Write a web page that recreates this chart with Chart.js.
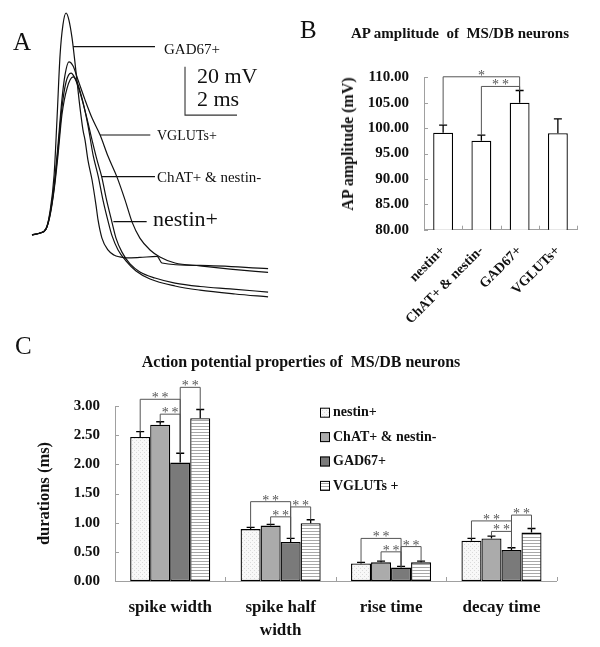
<!DOCTYPE html>
<html><head><meta charset="utf-8">
<script src="https://cdn.jsdelivr.net/npm/chart.js@4.4.1/dist/chart.umd.min.js"></script>
<style>
html,body{margin:0;padding:0;background:#fff;}
#wrap{position:relative;width:600px;height:647px;overflow:hidden;background:#fff;}
canvas{position:absolute;left:0;top:0;}
.t{position:absolute;font-family:"Liberation Serif","Times New Roman",serif;color:#111;white-space:pre;line-height:1;transform:translateY(-50%);}
.c{transform:translate(-50%,-50%);}
.b{font-weight:bold;}
</style></head><body>
<div id="wrap">
<canvas id="cA" width="600" height="647"></canvas>
<canvas id="cB" width="600" height="647"></canvas>
<canvas id="cC" width="600" height="647"></canvas>
<div class="t" style="left:13px;top:41px;font-size:25px">A</div>
<div class="t" style="left:164px;top:49px;font-size:15px">GAD67+</div>
<div class="t" style="left:197px;top:76px;font-size:22px">20 mV</div>
<div class="t" style="left:197px;top:99px;font-size:22px">2 ms</div>
<div class="t" style="left:157px;top:136px;font-size:14px">VGLUTs+</div>
<div class="t" style="left:157px;top:177px;font-size:15px">ChAT+ &amp; nestin-</div>
<div class="t" style="left:153px;top:219px;font-size:22px">nestin+</div>
<div class="t" style="left:300px;top:29px;font-size:25px">B</div>
<div class="t c b" style="left:460px;top:33px;font-size:15px">AP amplitude  of  MS/DB neurons</div>
<div class="t b" style="left:348px;top:143.5px;font-size:16px;transform:translate(-50%,-50%) rotate(-90deg)">AP amplitude (mV)</div>
<div class="t" style="left:15px;top:345px;font-size:25px">C</div>
<div class="t c b" style="left:301px;top:362px;font-size:16px">Action potential properties of  MS/DB neurons</div>
</div>
<script>
// ---------- Panel A: AP traces, [time (ms), membrane potential (mV)] ----------
const gadTrace = [[0,-60.8],[0.31,-60.0],[0.54,-58.3],[0.69,-51.3],[0.85,-36.0],[0.96,-13.3],[1.08,13.6],[1.19,26.0],[1.31,30.9],[1.42,28.0],[1.54,20.6],[1.65,10.7],[1.81,-5.0],[1.96,-17.4],[2.04,-21.6],[2.15,-29.8],[2.31,-38.1],[2.46,-48.4],[2.54,-54.6],[2.69,-62.1],[2.92,-67.0],[3.15,-69.1],[3.38,-69.9],[3.65,-70.3],[4.15,-70.1],[4.81,-69.7],[5.0,-72.4],[6.46,-73.4],[9.08,-74.7]];
const vglutTrace = [[0,-60.8],[0.31,-60.0],[0.54,-58.3],[0.69,-52.1],[0.85,-40.2],[1.0,-23.6],[1.15,-5.0],[1.27,5.3],[1.42,10.7],[1.58,9.0],[1.77,3.2],[2.04,-5.0],[2.31,-12.5],[2.62,-19.5],[2.92,-28.2],[3.27,-36.9],[3.58,-46.4],[3.85,-55.5],[4.15,-62.1],[4.54,-67.0],[4.92,-69.9],[5.5,-72.4],[6.46,-73.6],[7.62,-74.9],[9.08,-76.3]];
const chatTrace = [[0,-60.8],[0.31,-60.0],[0.54,-58.3],[0.69,-52.6],[0.85,-41.4],[1.0,-25.7],[1.15,-8.3],[1.31,2.4],[1.5,6.1],[1.65,4.0],[1.85,-2.1],[2.08,-11.2],[2.31,-21.6],[2.5,-29.8],[2.68,-36.7],[2.85,-45.5],[3.07,-55.3],[3.23,-62.1],[3.46,-67.9],[3.77,-72.8],[4.15,-76.1],[4.73,-78.6],[5.5,-80.7],[6.46,-82.1],[7.62,-83.1],[9.08,-84.4]];
const nestinTrace = [[0,-60.8],[0.31,-60.0],[0.54,-58.3],[0.69,-53.0],[0.85,-42.2],[1.0,-27.8],[1.15,-11.2],[1.35,-0.1],[1.58,4.5],[1.73,2.4],[1.92,-4.2],[2.15,-15.4],[2.35,-27.8],[2.55,-36.7],[2.73,-46.4],[2.93,-55.3],[3.08,-61.2],[3.31,-67.0],[3.62,-71.6],[4.0,-75.7],[4.54,-79.0],[5.5,-81.9],[6.46,-83.6],[7.81,-85.2],[9.08,-86.4]];

// ---------- Panel B: AP amplitude ----------
const apCategories = ['nestin+', 'ChAT+ & nestin-', 'GAD67+', 'VGLUTs+'];
const apMean = [99.1, 97.5, 105.0, 99.0];
const apSem = [1.5, 1.1, 2.4, 2.8];
const apSigLevels = [110.1, 108.2];   // nestin+ vs GAD67+ (*), ChAT+ vs GAD67+ (**)

// ---------- Panel C: AP properties ----------
const propCategories = ['spike width', ['spike half', 'width'], 'rise time', 'decay time'];
const seriesNames = ['nestin+', 'ChAT+ & nestin-', 'GAD67+', 'VGLUTs +'];
const nestinMean = [2.47, 0.89, 0.30, 0.69];
const nestinSem  = [0.09, 0.03, 0.02, 0.04];
const chatMean   = [2.68, 0.95, 0.32, 0.73];
const chatSem    = [0.05, 0.02, 0.02, 0.04];
const gadMean    = [2.03, 0.67, 0.23, 0.53];
const gadSem     = [0.16, 0.06, 0.02, 0.04];
const vglutMean  = [2.79, 0.99, 0.32, 0.83];
const vglutSem   = [0.15, 0.06, 0.02, 0.07];
const sigNestinGad = [3.115, 1.36, 0.73, 1.03];
const sigChatGad   = [2.86, 1.10, 0.50, 0.85];
const sigGadVglut  = [3.32, 1.27, 0.59, 1.13];

// ---------- common ----------
const FONT = '"Liberation Serif", "Times New Roman", serif';
Chart.defaults.font.family = FONT;
Chart.defaults.color = '#111';
const AXIS_GRAY = '#a0a0a0';

// Panel A layout mapping
const A_X0 = 32, A_Y0 = 233, A_PX_MS = 26, A_PX_MV = 2.42, A_V0 = -60;
const pointerLines = [
  {t0: 1.58, t1: 4.73, v: 17.0},
  {t0: 2.62, t1: 4.55, v: -19.5},
  {t0: 2.68, t1: 4.73, v: -36.7},
  {t0: 3.13, t1: 4.41, v: -55.3}
];
const scaleBar = {t: 5.885, v: 8.72, mV: 20, ms: 2};

const annotA = {
  id: 'annotA',
  afterDatasetsDraw(chart) {
    const {ctx, scales: {x, y}} = chart;
    ctx.save();
    ctx.strokeStyle = '#111'; ctx.lineWidth = 1.2;
    pointerLines.forEach(p => {
      const py = y.getPixelForValue(p.v);
      ctx.beginPath(); ctx.moveTo(x.getPixelForValue(p.t0), py); ctx.lineTo(x.getPixelForValue(p.t1), py); ctx.stroke();
    });
    const x0 = x.getPixelForValue(scaleBar.t), x1 = x.getPixelForValue(scaleBar.t + scaleBar.ms);
    const yT = y.getPixelForValue(scaleBar.v), yB = y.getPixelForValue(scaleBar.v - scaleBar.mV);
    ctx.strokeStyle = '#333'; ctx.lineWidth = 1.1;
    ctx.beginPath(); ctx.moveTo(x0, yT); ctx.lineTo(x0, yB); ctx.lineTo(x1, yB); ctx.stroke();
    ctx.restore();
  }
};

const toXY = arr => arr.map(p => ({x: p[0], y: p[1]}));
new Chart(document.getElementById('cA'), {
  type: 'line',
  data: {datasets: [
    {label: 'GAD67+', data: toXY(gadTrace)},
    {label: 'VGLUTs+', data: toXY(vglutTrace)},
    {label: 'ChAT+ & nestin-', data: toXY(chatTrace)},
    {label: 'nestin+', data: toXY(nestinTrace)}
  ]},
  options: {
    responsive: false, animation: false, events: [],
    layout: {padding: 0},
    plugins: {legend: {display: false}, tooltip: {enabled: false}},
    elements: {point: {radius: 0}, line: {borderWidth: 1.2, borderColor: '#111', cubicInterpolationMode: 'monotone', fill: false}},
    scales: {
      x: {type: 'linear', display: false, min: -A_X0 / A_PX_MS, max: (600 - A_X0) / A_PX_MS},
      y: {type: 'linear', display: false, min: A_V0 - (647 - A_Y0) / A_PX_MV, max: A_V0 + A_Y0 / A_PX_MV}
    }
  },
  plugins: [annotA]
});

// ---------- plugins for bar charts ----------
const errorBars = {
  id: 'errorBars',
  afterDatasetsDraw(chart) {
    const {ctx} = chart; const y = chart.scales.y;
    ctx.save(); ctx.strokeStyle = '#000'; ctx.lineWidth = 1.3;
    chart.data.datasets.forEach((ds, di) => {
      chart.getDatasetMeta(di).data.forEach((bar, i) => {
        const top = y.getPixelForValue(ds.data[i]);
        const et = y.getPixelForValue(ds.data[i] + ds.errors[i]);
        ctx.beginPath();
        ctx.moveTo(bar.x, top); ctx.lineTo(bar.x, et);
        ctx.moveTo(bar.x - 4, et); ctx.lineTo(bar.x + 4, et);
        ctx.stroke();
      });
    });
    ctx.restore();
  }
};

const sigBrackets = {
  id: 'sigBrackets',
  afterDatasetsDraw(chart, args, opts) {
    const {ctx} = chart; const y = chart.scales.y;
    const ds = chart.data.datasets;
    ctx.save();
    ctx.strokeStyle = '#555'; ctx.lineWidth = 1;
    ctx.fillStyle = '#555'; ctx.font = '14px ' + FONT; ctx.textAlign = 'center'; ctx.textBaseline = 'alphabetic';
    (opts.brackets || []).forEach(b => {
      const [da, ia] = b.a, [db, ib] = b.b;
      const xa = chart.getDatasetMeta(da).data[ia].x, xb = chart.getDatasetMeta(db).data[ib].x;
      const ya = y.getPixelForValue(ds[da].data[ia] + ds[da].errors[ia]);
      const yb = y.getPixelForValue(ds[db].data[ib] + ds[db].errors[ib]);
      const yl = y.getPixelForValue(b.level);
      ctx.beginPath(); ctx.moveTo(xa, ya); ctx.lineTo(xa, yl); ctx.lineTo(xb, yl); ctx.lineTo(xb, yb); ctx.stroke();
      ctx.fillText(b.stars.split('').join('\u2009'), (xa + xb) / 2, yl + 3);
    });
    ctx.restore();
  }
};

const innerTicks = {
  id: 'innerTicks',
  afterDraw(chart) {
    const {ctx, chartArea: a, scales: {x, y}} = chart;
    ctx.save(); ctx.strokeStyle = AXIS_GRAY; ctx.lineWidth = 1;
    ctx.beginPath();
    y.ticks.forEach(t => { const py = Math.round(y.getPixelForValue(t.value)) + 0.5; ctx.moveTo(a.left, py); ctx.lineTo(a.left + 4, py); });
    for (let k = 1; k <= x.ticks.length; k++) { const px = Math.round(x.getPixelForValue(k - 0.5)) + 0.5; ctx.moveTo(px, a.bottom); ctx.lineTo(px, a.bottom - 4); }
    ctx.stroke(); ctx.restore();
  }
};

// ---------- Panel B chart ----------
new Chart(document.getElementById('cB'), {
  type: 'bar',
  data: {labels: apCategories, datasets: [{
    label: 'AP amplitude (mV)', data: apMean, errors: apSem,
    backgroundColor: '#ffffff', borderColor: '#000', borderWidth: 1.3, borderSkipped: false,
    barPercentage: 0.52, categoryPercentage: 1
  }]},
  options: {
    responsive: false, animation: false, events: [],
    layout: {padding: {left: 0, top: 77.3, right: 23, bottom: 0}},
    plugins: {
      legend: {display: false}, tooltip: {enabled: false},
      sigBrackets: {brackets: [
        {a: [0, 0], b: [0, 2], level: apSigLevels[0], stars: '*'},
        {a: [0, 1], b: [0, 2], level: apSigLevels[1], stars: '**'}
      ]}
    },
    scales: {
      x: {grid: {display: false, drawTicks: false}, border: {display: true, color: AXIS_GRAY, width: 1},
          ticks: {font: {size: 14, weight: 'bold'}, color: '#111', minRotation: 45, maxRotation: 45, padding: 13, autoSkip: false},
          afterFit(s) { s.height = 647 - 229.7; }},
      y: {min: 80, max: 110, grid: {display: false, drawTicks: false}, border: {display: true, color: AXIS_GRAY, width: 1},
          ticks: {stepSize: 5, font: {size: 15, weight: 'bold'}, color: '#111', padding: 15, callback: v => v.toFixed(2)},
          afterFit(s) { s.width = 424; }}
    }
  },
  plugins: [errorBars, sigBrackets, innerTicks]
});

// ---------- Panel C chart ----------
function makePattern(w, h, draw) {
  const c = document.createElement('canvas'); c.width = w; c.height = h;
  const g = c.getContext('2d'); draw(g); return g.createPattern(c, 'repeat');
}
const dotFill = makePattern(4, 4, g => { g.fillStyle = '#f8f8f8'; g.fillRect(0, 0, 4, 4); g.fillStyle = '#dadada'; g.fillRect(0, 0, 1, 1); g.fillRect(2, 2, 1, 1); });
const stripeFill = makePattern(4, 3, g => { g.fillStyle = '#ffffff'; g.fillRect(0, 0, 4, 3); g.fillStyle = '#a8a8a8'; g.fillRect(0, 0, 4, 1); });
const seriesFills = [dotFill, '#ababab', '#7a7a7a', stripeFill];

const legendC = {
  id: 'legendC',
  afterDraw(chart) {
    const {ctx} = chart;
    ctx.save(); ctx.font = 'bold 14px ' + FONT; ctx.textBaseline = 'middle'; ctx.textAlign = 'left';
    chart.data.datasets.forEach((ds, i) => {
      const cy = 412.7 + 24.4 * i;
      ctx.fillStyle = ds.backgroundColor; ctx.fillRect(320, cy - 5, 10, 10);
      ctx.strokeStyle = '#000'; ctx.lineWidth = 1; ctx.strokeRect(320.5, cy - 4.5, 9, 9);
      ctx.fillStyle = '#111'; ctx.fillText(ds.label, 333, cy);
    });
    ctx.restore();
  }
};

const meansC = [nestinMean, chatMean, gadMean, vglutMean];
const semsC = [nestinSem, chatSem, gadSem, vglutSem];
const bracketsC = [];
propCategories.forEach((_, k) => {
  bracketsC.push({a: [0, k], b: [2, k], level: sigNestinGad[k], stars: '**'});
  bracketsC.push({a: [1, k], b: [2, k], level: sigChatGad[k], stars: '**'});
  bracketsC.push({a: [2, k], b: [3, k], level: sigGadVglut[k], stars: '**'});
});

new Chart(document.getElementById('cC'), {
  type: 'bar',
  data: {labels: propCategories, datasets: seriesNames.map((name, i) => ({
    label: name, data: meansC[i], errors: semsC[i],
    backgroundColor: seriesFills[i], borderColor: '#000', borderWidth: 1.3, borderSkipped: false,
    barPercentage: 1, categoryPercentage: 0.725
  }))},
  options: {
    responsive: false, animation: false, events: [],
    layout: {padding: {left: 0, top: 406, right: 43.3, bottom: 0}},
    plugins: {legend: {display: false}, tooltip: {enabled: false}, sigBrackets: {brackets: bracketsC}},
    scales: {
      x: {grid: {display: false, drawTicks: false}, border: {display: true, color: AXIS_GRAY, width: 1},
          ticks: {font: {size: 17, weight: 'bold', lineHeight: 1.3}, color: '#111', maxRotation: 0, padding: 16, autoSkip: false},
          afterFit(s) { s.height = 66; }},
      y: {min: 0, max: 3, grid: {display: false, drawTicks: false}, border: {display: true, color: AXIS_GRAY, width: 1},
          ticks: {stepSize: 0.5, font: {size: 15, weight: 'bold'}, color: '#111', padding: 15, callback: v => v.toFixed(2)},
          title: {display: true, text: 'durations (ms)', font: {size: 16.5, weight: 'bold'}, color: '#111', padding: {top: 35, bottom: 0}},
          afterFit(s) { s.width = 115; }}
    }
  },
  plugins: [errorBars, sigBrackets, innerTicks, legendC]
});
</script>
</body></html>
